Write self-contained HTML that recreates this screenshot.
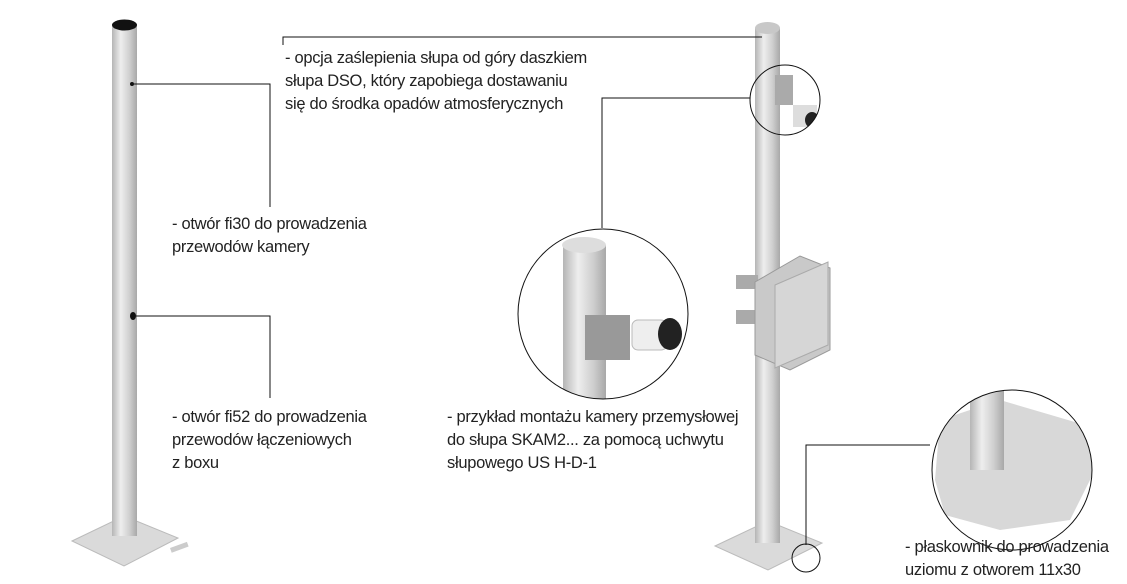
<!DOCTYPE html><html><head><style>
body{margin:0;width:1127px;height:584px;background:#fff;overflow:hidden;position:relative;font-family:"Liberation Sans",sans-serif;}
.t{position:absolute;font-size:16.5px;line-height:23px;color:#222;letter-spacing:-0.3px}
svg{position:absolute;left:0;top:0}
</style></head><body>
<svg width="1127" height="584">
<defs>
<linearGradient id="p" x1="0" x2="1"><stop offset="0" stop-color="#b5b5b5"/><stop offset=".35" stop-color="#eeeeee"/><stop offset=".7" stop-color="#cfcfcf"/><stop offset="1" stop-color="#a8a8a8"/></linearGradient>
<clipPath id="c1"><circle cx="603" cy="314" r="85"/></clipPath>
<clipPath id="c2"><circle cx="785" cy="100" r="35"/></clipPath>
<clipPath id="c3"><circle cx="1012" cy="470" r="80"/></clipPath>
</defs>
<!-- left pole -->
<polygon points="72,541 124,516 178,538 124,566" fill="#dadada" stroke="#bbb"/>
<rect x="112" y="24" width="25" height="512" fill="url(#p)"/>
<ellipse cx="124.5" cy="25" rx="12.5" ry="5.5" fill="#111"/>
<circle cx="132" cy="84" r="2" fill="#111"/><ellipse cx="133" cy="316" rx="3" ry="4" fill="#111"/>
<rect x="170" y="548" width="18" height="5" fill="#ccc" transform="rotate(-20 170 548)"/>
<!-- right pole -->
<polygon points="715,546 768,521 822,543 768,570" fill="#dadada" stroke="#bbb"/>
<rect x="755" y="28" width="25" height="515" fill="url(#p)"/>
<ellipse cx="767.5" cy="28" rx="12.5" ry="6" fill="#c8c8c8"/>
<rect x="736" y="275" width="22" height="14" fill="#aaa"/><rect x="736" y="310" width="22" height="14" fill="#aaa"/>
<polygon points="755,282 800,256 830,268 830,350 790,370 755,355" fill="#c9c9c9" stroke="#999"/>
<polygon points="775,285 828,262 828,345 775,368" fill="#d6d6d6" stroke="#aaa"/>
<!-- details in circles -->
<g clip-path="url(#c1)">
<rect x="563" y="245" width="43" height="170" fill="url(#p)"/>
<ellipse cx="584" cy="245" rx="22" ry="8" fill="#ddd"/>
<rect x="585" y="315" width="45" height="45" fill="#999"/>
<rect x="632" y="320" width="35" height="30" rx="6" fill="#eee" stroke="#bbb"/>
<ellipse cx="670" cy="334" rx="12" ry="16" fill="#222"/>
</g>
<g clip-path="url(#c2)">
<rect x="775" y="75" width="18" height="30" fill="#aaa"/>
<rect x="793" y="105" width="24" height="22" fill="#ddd"/><ellipse cx="812" cy="120" rx="7" ry="8" fill="#222"/>
</g>
<g clip-path="url(#c3)">
<polygon points="940,420 1000,400 1085,425 1095,470 1070,520 1000,530 945,515 935,480" fill="#d8d8d8"/>
<rect x="970" y="385" width="34" height="85" fill="url(#p)"/>
</g>
<!-- connectors -->
<g fill="none" stroke="#111" stroke-width="1">
<polyline points="134,84 270,84 270,207"/>
<polyline points="136,316 270,316 270,398"/>
<polyline points="283,45 283,37 762,37"/>
<polyline points="602,228 602,98 750,98"/>
<polyline points="930,445 806,445 806,545"/>
<circle cx="603" cy="314" r="85"/>
<circle cx="785" cy="100" r="35"/>
<circle cx="1012" cy="470" r="80"/>
<circle cx="806" cy="558" r="14"/>
</g>
</svg>
<div class="t" style="left:285px;top:47px">- opcja zaślepienia słupa od góry daszkiem<br>słupa DSO, który zapobiega dostawaniu<br>się do środka opadów atmosferycznych</div>
<div class="t" style="left:172px;top:213px">- otwór fi30 do prowadzenia<br>przewodów kamery</div>
<div class="t" style="left:172px;top:406px">- otwór fi52 do prowadzenia<br>przewodów łączeniowych<br>z boxu</div>
<div class="t" style="left:447px;top:406px">- przykład montażu kamery przemysłowej<br>do słupa SKAM2... za pomocą uchwytu<br>słupowego US H-D-1</div>
<div class="t" style="left:905px;top:536px">- płaskownik do prowadzenia<br>uziomu z otworem 11x30</div>
</body></html>
